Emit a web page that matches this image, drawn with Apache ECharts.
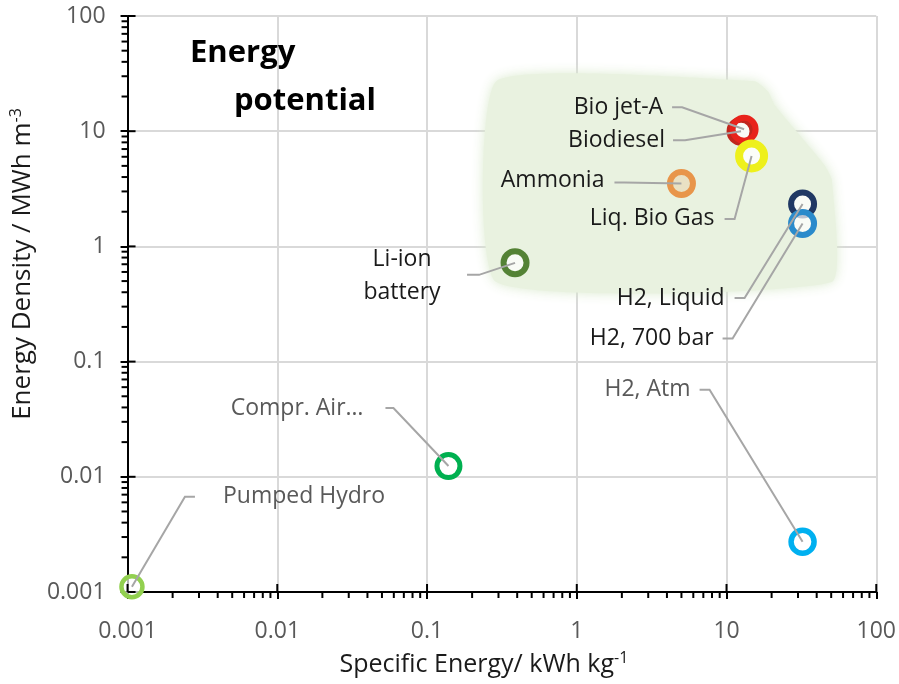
<!DOCTYPE html>
<html><head><meta charset="utf-8">
<script src="https://cdn.jsdelivr.net/npm/echarts@6/dist/echarts.min.js"></script>
<style>html,body{margin:0;padding:0;background:#fff}#c{width:899px;height:684px}</style>
</head><body><div id="c"></div>
<script>
// ---------- data ----------
const names = ['Pumped Hydro', 'Compr. Air…', 'Li-ion\nbattery', 'Ammonia', 'Biodiesel', 'Bio jet-A', 'Liq. Bio Gas', 'H2, Liquid', 'H2, 700 bar', 'H2, Atm'];
const specificEnergy = [0.00107, 0.139, 0.387, 5.0, 12.5, 13.1, 14.7, 32.2, 32.2, 32.2];   // kWh/kg
const energyDensity  = [0.00111, 0.0124, 0.72, 3.52, 10.0, 10.4, 6.1, 2.33, 1.58, 0.00273]; // MWh/m3
const tickLabels = ['0.001', '0.01', '0.1', '1', '10', '100'];
// outline of the shaded "energy potential" zone (data coordinates)
const regionX = [0.29, 15.5, 19, 21, 45, 50.5, 50.5, 0.29];
const regionY = [27.2, 27.2, 22, 16.8, 5.1, 3.8, 0.49, 0.49];

// ---------- styles / layout ----------
const colors = ['#92d050', '#00b050', '#548235', '#e8954a', '#c0261d', '#e8231b', '#eef01c', '#203864', '#2a8acb', '#00b0f0'];
const fills  = ['rgba(255,255,255,0.7)', 'rgba(255,255,255,0.7)', 'rgba(255,255,255,0.7)', 'rgba(232,149,74,0.18)', 'rgba(255,255,255,0.7)', 'rgba(255,255,255,0.0)', 'rgba(255,255,255,0.8)', 'rgba(255,255,255,0.7)', 'rgba(255,255,255,0.7)', 'rgba(255,255,255,0.7)'];
const sizes  = [21, 23, 23, 23, 23, 23, 25, 23, 23, 23];
const borders = [4.5, 5, 6, 6, 6, 6, 8, 6, 6, 5.5];
// leader: start offset from point (dx, dy), first horizontal segment length, text offset from leader start, align, colour
const labelLayout = [
  {dx: 63,  dy: -90,  seg: -10, tx: 28,  ty: 0,  align: 'left',   color: '#595959'},
  {dx: -63, dy: -58,  seg: 8,   tx: -22, ty: 0,  align: 'right',  color: '#595959'},
  {dx: -48, dy: 12,   seg: 12,  tx: -65, ty: 1,  align: 'center', color: '#1a1a1a'},
  {dx: -67, dy: -1,   seg: 10,  tx: -10, ty: -2, align: 'right',  color: '#1a1a1a'},
  {dx: -68, dy: 9,    seg: 12,  tx: -8,  ty: 0,  align: 'right',  color: '#1a1a1a'},
  {dx: -72, dy: -22,  seg: 10,  tx: -9,  ty: 0,  align: 'right',  color: '#1a1a1a'},
  {dx: -27, dy: 63,   seg: 10,  tx: -10, ty: 0,  align: 'right',  color: '#1a1a1a'},
  {dx: -68, dy: 94,   seg: 10,  tx: -10, ty: 0,  align: 'right',  color: '#1a1a1a'},
  {dx: -80, dy: 115,  seg: 10,  tx: -9,  ty: 0,  align: 'right',  color: '#1a1a1a'},
  {dx: -103, dy: -152, seg: 10, tx: -9,  ty: 0,  align: 'right',  color: '#595959'}
];
const minorMult = [2, 3, 4, 5, 6, 7, 8, 9];
const decades = [0.001, 0.01, 0.1, 1, 10];
const FONT = '"Open Sans", "Noto Sans", sans-serif';

const chart = echarts.init(document.getElementById('c'), null, {renderer: 'canvas'});

const points = specificEnergy.map((x, i) => ({
  value: [x, energyDensity[i]],
  name: names[i],
  symbolSize: sizes[i],
  itemStyle: {color: fills[i], borderColor: colors[i], borderWidth: borders[i], opacity: 1}
}));

const axisCommon = {
  type: 'log', logBase: 10, min: 0.001, max: 100,
  axisLine: {show: true, onZero: false, lineStyle: {color: '#000', width: 2}},
  axisTick: {show: true, length: 7, lineStyle: {color: '#000', width: 2}},
  splitLine: {show: true, lineStyle: {color: '#d9d9d9', width: 2}},
  minorTick: {show: false},
  axisLabel: {
    color: '#595959', fontFamily: FONT, fontSize: 23,
    formatter: (v) => {
      const k = Math.round(Math.log10(v)) + 3;
      return tickLabels[k] !== undefined ? tickLabels[k] : '';
    }
  }
};

chart.setOption({
  animation: false,
  backgroundColor: '#fff',
  grid: {left: 127, right: 22, top: 16, bottom: 92, containLabel: false},
  xAxis: Object.assign({}, axisCommon, {
    name: '{a|Specific Energy/ kWh kg}{s|-1}',
    nameLocation: 'middle', nameGap: 58,
    nameTextStyle: {padding: [0, 36, 0, 0], rich: {
      a: {fontFamily: FONT, fontSize: 25, color: '#1a1a1a'},
      s: {fontFamily: FONT, fontSize: 16, color: '#1a1a1a', padding: [0, 0, 14, 0]}
    }},
    axisLabel: Object.assign({}, axisCommon.axisLabel, {margin: 28})
  }),
  yAxis: Object.assign({}, axisCommon, {
    name: '{a|Energy Density / MWh m}{s|-3}',
    nameLocation: 'middle', nameGap: 66,
    nameTextStyle: {padding: [0, 0, 0, 80], rich: {
      a: {fontFamily: FONT, fontSize: 26, color: '#1a1a1a'},
      s: {fontFamily: FONT, fontSize: 16, color: '#1a1a1a', padding: [0, 0, 14, 0]}
    }},
    axisLabel: Object.assign({}, axisCommon.axisLabel, {margin: 22})
  }),
  graphic: [
    {type: 'text', left: 190, top: 38, z: 100,
     style: {text: 'Energy', font: 'bold 31px ' + FONT, fill: '#000'}},
    {type: 'text', left: 234, top: 86, z: 100,
     style: {text: 'potential', font: 'bold 31px ' + FONT, fill: '#000'}}
  ],
  series: [
    {
      type: 'custom', name: 'zone', z: 1, silent: true,
      data: [[1, 1]],
      renderItem: (params, api) => {
        const pts = regionX.map((x, i) => api.coord([x, regionY[i]]));
        return {
          type: 'polygon',
          shape: {points: pts, smooth: 0.15},
          style: {fill: '#e9f2e0', shadowBlur: 12, shadowColor: 'rgba(218,234,205,0.95)'}
        };
      }
    },
    {
      type: 'scatter', name: 'sources', z: 3,
      symbol: 'circle',
      data: points
    },
    {
      type: 'custom', name: 'labels', z: 4, silent: true,
      data: specificEnergy.map((x, i) => [x, energyDensity[i], i]),
      renderItem: (params, api) => {
        const i = api.value(2);
        const L = labelLayout[i];
        const p = api.coord([api.value(0), api.value(1)]);
        const s = [p[0] + L.dx, p[1] + L.dy];
        const b = [s[0] + L.seg, s[1]];
        return {
          type: 'group',
          children: [
            {type: 'polyline', shape: {points: [s, b, p]},
             style: {stroke: '#a6a6a6', lineWidth: 2, fill: null}},
            {type: 'text', x: s[0] + L.tx, y: s[1] + L.ty,
             style: {text: names[i], font: '23px ' + FONT, fill: L.color,
                     align: L.align, verticalAlign: 'middle', lineHeight: 33}}
          ]
        };
      }
    },
    {
      type: 'custom', name: 'ticks', z: 5, silent: true, clip: false,
      data: [[1, 1]],
      renderItem: (params, api) => {
        const kids = [];
        const line = (a, c) => kids.push({type: 'line', shape: {x1: a[0], y1: a[1], x2: c[0], y2: c[1]},
                                           style: {stroke: '#000', lineWidth: 2}});
        decades.forEach(d => {
          minorMult.forEach(m => {
            const v = d * m;
            const px = api.coord([v, 0.001]);
            line(px, [px[0], px[1] + 6]);
            const py = api.coord([0.001, v]);
            line(py, [py[0] - 6, py[1]]);
          });
        });
        decades.concat([100]).forEach(d => {
          const px = api.coord([d, 0.001]);
          line(px, [px[0], px[1] - 8]);
          const py = api.coord([0.001, d]);
          line(py, [py[0] + 8, py[1]]);
        });
        return {type: 'group', children: kids};
      }
    }
  ]
});
</script>
</body></html>
